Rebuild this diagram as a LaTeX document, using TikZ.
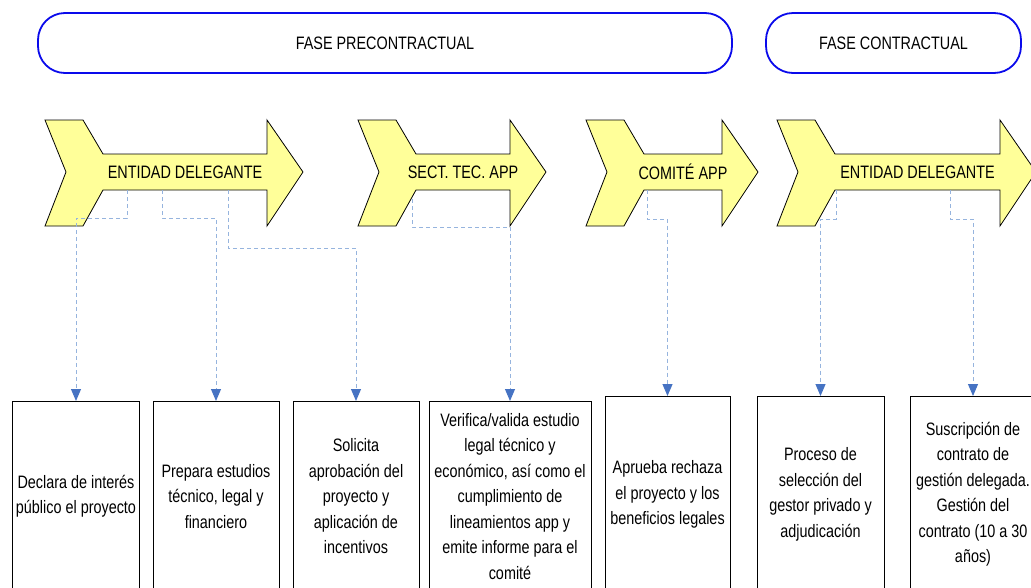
\documentclass[tikz,border=0pt]{standalone}
\usepackage{fontspec}
\setmainfont{Liberation Sans}[FakeStretch=0.8]
\usetikzlibrary{arrows.meta,positioning}

\definecolor{chevfill}{RGB}{255,255,153}
\definecolor{phaseblue}{RGB}{10,10,235}
\definecolor{linkblue}{RGB}{150,180,222}
\definecolor{tipblue}{RGB}{70,115,195}

% #1 name, #2 left x, #3 x of the head base, #4 label
\newcommand{\chevshape}[4]{%
	\draw[chev] (#2,120) -- (#2+38,120) -- (#2+58,154) -- (#3,154) -- (#3,120) -- (#3+36,172)
		-- (#3,226) -- (#3,190) -- (#2+58,190) -- (#2+38,226) -- (#2,226) -- (#2+21,172) -- cycle;
	\node (#1) at ({(#2+58+#3)/2},172) {#4};}

\begin{document}
\begin{tikzpicture}[x=1pt,y=-1pt,
		every node/.style={font=\fontsize{18pt}{25.5pt}\selectfont},
		phase/.style={draw=phaseblue,line width=1.8pt,rounded corners=27pt,minimum height=60pt},
		chev/.style={draw=black,line width=0.8pt,fill=chevfill},
		stepbox/.style={draw,line width=0.8pt,anchor=north,align=center},
		link/.style={draw=linkblue,dash pattern=on 4pt off 3pt,line width=1pt,
			-{Triangle[length=12pt,width=10pt,color=tipblue,fill=tipblue]}}]
			\useasboundingbox (0,0) rectangle (1031,587);

			\node[phase,minimum width=694pt] (pre) at (385,43) {FASE PRECONTRACTUAL};
			\node[phase,minimum width=255pt] (con) at (893.5,43) {FASE CONTRACTUAL};

			\chevshape{ent1}{45}{267}{ENTIDAD DELEGANTE}
			\chevshape{sect}{358}{510}{SECT. TEC. APP}
			\chevshape{comi}{586}{722}{COMITÉ APP}
			\chevshape{ent2}{777}{1000}{ENTIDAD DELEGANTE}

			\node[stepbox,minimum width=126pt,minimum height=190pt] (dec) at (76,401) {Declara de interés\\público el proyecto};
			\node[stepbox,minimum width=126pt,minimum height=190pt] (prep) at (216,401) {Prepara estudios\\técnico, legal y\\financiero};
			\node[stepbox,minimum width=126pt,minimum height=190pt] (sol) at (356,401) {Solicita\\aprobación del\\proyecto y\\aplicación de\\incentivos};
			\node[stepbox,minimum width=162pt,minimum height=190pt] (ver) at (510,401) {Verifica/valida estudio\\legal técnico y\\económico, así como el\\cumplimiento de\\lineamientos app y\\emite informe para el\\comité};
			\node[stepbox,minimum width=125pt,minimum height=196pt] (apr) at (667.5,396) {Aprueba rechaza\\el proyecto y los\\beneficios legales};
			\node[stepbox,minimum width=127pt,minimum height=196pt] (proc) at (820.5,396) {Proceso de\\selección del\\gestor privado y\\adjudicación};
			\node[stepbox,minimum width=126pt,minimum height=196pt] (susc) at (973,396) {Suscripción de\\contrato de\\gestión delegada.\\Gestión del\\contrato (10 a 30\\años)};

			\coordinate (ent1a) at (127,190);
			\coordinate (ent1b) at (162,190);
			\coordinate (ent1c) at (228,190);
			\coordinate (secta) at (412,199);
			\coordinate (comia) at (647,190);
			\coordinate (ent2a) at (836,190);
			\coordinate (ent2b) at (950,190);

			\draw[link] (ent1a) -- ++(0,28) -| (dec.north);
			\draw[link] (ent1b) -- ++(0,28) -| (prep.north);
			\draw[link] (ent1c) -- ++(0,58) -| (sol.north);
			\draw[link] (secta) -- ++(0,28) -| (ver.north);
			\draw[link] (comia) -- ++(0,29) -| (apr.north);
			\draw[link] (ent2a) -- ++(0,29) -| (proc.north);
			\draw[link] (ent2b) -- ++(0,29) -| (susc.north);

		\end{tikzpicture}
\end{document}
